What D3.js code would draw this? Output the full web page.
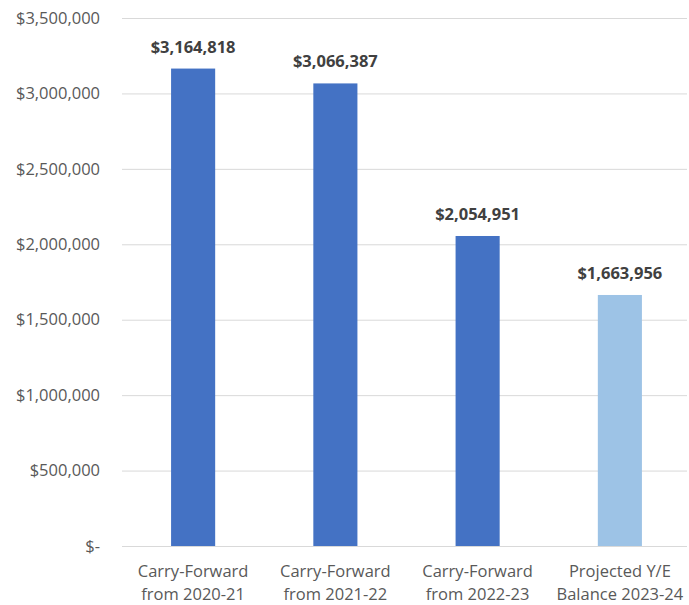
<!DOCTYPE html>
<html><head><meta charset="utf-8">
<script src="https://cdn.jsdelivr.net/npm/d3@7"></script>
<style>body{margin:0;background:#fff;} text{font-family:"Open Sans","Noto Sans",sans-serif;}</style>
</head><body>
<svg id="c" width="689" height="605"></svg>
<script>
const categories = [["Carry-Forward","from 2020-21"],["Carry-Forward","from 2021-22"],["Carry-Forward","from 2022-23"],["Projected Y/E","Balance 2023-24"]];
const values = [3164818, 3066387, 2054951, 1663956];
const barColors = ["#4472C4","#4472C4","#4472C4","#9DC3E6"];
const tickValues = [0,500000,1000000,1500000,2000000,2500000,3000000,3500000];

const svg = d3.select("#c");
const pL = 122, pR = 691, pT = 18, pB = 546;
const x = d3.scaleBand().domain(d3.range(values.length)).range([pL,pR]).paddingInner(0.69).paddingOuter(0.345);
const y = d3.scaleLinear().domain([0,3500000]).range([pB,pT]);
const fmt = d3.format(",");

svg.append("g").selectAll("line").data(tickValues).join("line")
  .attr("x1",pL).attr("x2",687).attr("y1",d=>y(d)+0.5).attr("y2",d=>y(d)+0.5)
  .attr("stroke","#d9d9d9").attr("stroke-width",1);

const yAxis = d3.axisLeft(y).tickValues(tickValues).tickSize(0).tickPadding(0)
  .tickFormat(d=> d===0 ? "$-" : "$"+fmt(d));
const ga = svg.append("g").attr("transform","translate(100,0)").call(yAxis);
ga.select(".domain").remove();
ga.selectAll("text").attr("fill","#595959").style("font-size","16.5px").attr("font-family","Open Sans");

svg.append("g").selectAll("rect").data(values).join("rect")
  .attr("x",(d,i)=>x(i)).attr("width",x.bandwidth())
  .attr("y",d=>y(d)).attr("height",d=>pB-y(d))
  .attr("fill",(d,i)=>barColors[i]);

svg.append("g").selectAll("text").data(values).join("text")
  .attr("x",(d,i)=>x(i)+x.bandwidth()/2).attr("y",d=>y(d)-16)
  .attr("text-anchor","middle").attr("fill","#404040")
  .style("font-size","16.5px").style("font-weight","bold")
  .text(d=>"$"+fmt(d));

const cl = svg.append("g").selectAll("text").data(categories).join("text")
  .attr("text-anchor","middle").attr("fill","#595959").style("font-size","16.5px")
  .attr("x",(d,i)=>x(i)+x.bandwidth()/2);
cl.append("tspan").attr("y",577).attr("x",(d,i)=>x(i)+x.bandwidth()/2).text(d=>d[0]);
cl.append("tspan").attr("y",600).attr("x",(d,i)=>x(i)+x.bandwidth()/2).text(d=>d[1]);
</script>
</body></html>
